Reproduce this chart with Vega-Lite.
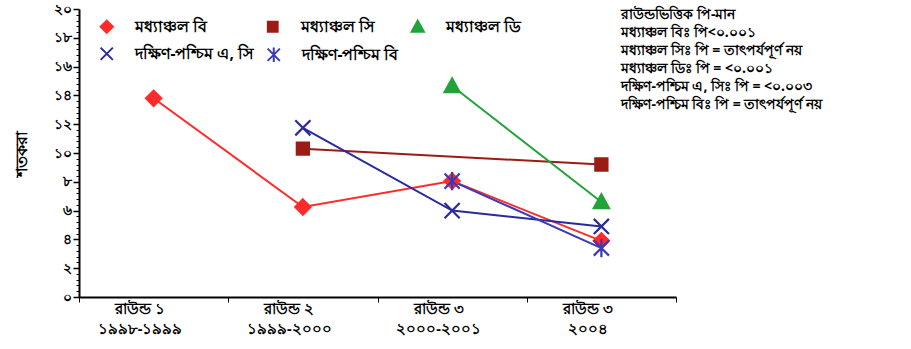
{
  "$schema": "https://vega.github.io/schema/vega-lite/v6.json",
  "width": 597,
  "height": 288,
  "padding": {"left": 13, "top": 2, "right": 5, "bottom": 5},
  "background": "white",
  "config": {
    "font": "Noto Sans",
    "view": {"stroke": null},
    "axis": {"domainColor": "#000000", "domainWidth": 2, "tickColor": "#000000", "labelColor": "#000000", "titleColor": "#000000", "grid": false}
  },
  "datasets": {
    "pts": [
      {"series": "মধ্যাঞ্চল বি", "round": "রাউন্ড ১|১৯৯৮-১৯৯৯", "value": 13.8},
      {"series": "মধ্যাঞ্চল বি", "round": "রাউন্ড ২|১৯৯৯-২০০০", "value": 6.25},
      {"series": "মধ্যাঞ্চল বি", "round": "রাউন্ড ৩|২০০০-২০০১", "value": 8.05},
      {"series": "মধ্যাঞ্চল বি", "round": "রাউন্ড ৩|২০০৪", "value": 3.9},
      {"series": "মধ্যাঞ্চল সি", "round": "রাউন্ড ২|১৯৯৯-২০০০", "value": 10.3},
      {"series": "মধ্যাঞ্চল সি", "round": "রাউন্ড ৩|২০০৪", "value": 9.2},
      {"series": "মধ্যাঞ্চল ডি", "round": "রাউন্ড ৩|২০০০-২০০১", "value": 14.65},
      {"series": "মধ্যাঞ্চল ডি", "round": "রাউন্ড ৩|২০০৪", "value": 6.6},
      {"series": "দক্ষিণ-পশ্চিম এ, সি", "round": "রাউন্ড ২|১৯৯৯-২০০০", "value": 11.75},
      {"series": "দক্ষিণ-পশ্চিম এ, সি", "round": "রাউন্ড ৩|২০০০-২০০১", "value": 6.0},
      {"series": "দক্ষিণ-পশ্চিম এ, সি", "round": "রাউন্ড ৩|২০০৪", "value": 4.9},
      {"series": "দক্ষিণ-পশ্চিম বি", "round": "রাউন্ড ৩|২০০০-২০০১", "value": 8.05},
      {"series": "দক্ষিণ-পশ্চিম বি", "round": "রাউন্ড ৩|২০০৪", "value": 3.4}
    ],
    "notes": [
      {"line": "রাউন্ডভিত্তিক পি-মান", "pos": 19.58},
      {"line": "মধ্যাঞ্চল বিঃ পি<০.০০১", "pos": 18.33},
      {"line": "মধ্যাঞ্চল সিঃ পি = তাৎপর্যপূর্ণ নয়", "pos": 17.08},
      {"line": "মধ্যাঞ্চল ডিঃ পি = <০.০০১", "pos": 15.83},
      {"line": "দক্ষিণ-পশ্চিম এ, সিঃ পি = <০.০০৩", "pos": 14.58},
      {"line": "দক্ষিণ-পশ্চিম বিঃ পি = তাৎপর্যপূর্ণ নয়", "pos": 13.33}
    ]
  },
  "layer": [
    {
      "data": {"name": "pts"},
      "mark": {"type": "line", "strokeWidth": 2},
      "encoding": {
        "x": {
          "field": "round", "type": "nominal", "sort": null,
          "scale": {"type": "band", "paddingInner": 0, "paddingOuter": 0, "domain": ["রাউন্ড ১|১৯৯৮-১৯৯৯", "রাউন্ড ২|১৯৯৯-২০০০", "রাউন্ড ৩|২০০০-২০০১", "রাউন্ড ৩|২০০৪"]},
          "axis": {"title": null, "labelAngle": 0, "labelExpr": "split(datum.label, '|')", "tickBand": "extent", "tickSize": 5, "labelFontSize": 14.5, "labelFontWeight": "bold", "labelPadding": 0, "labelLineHeight": 20, "labelOffset": -14}
        },
        "y": {
          "field": "value", "type": "quantitative", "title": "শতকরা",
          "scale": {"domain": [0, 20], "nice": false},
          "axis": {"title": "শতকরা",
            "values": [0, 0.4, 0.8, 1.2, 1.6, 2, 2.4, 2.8, 3.2, 3.6, 4, 4.4, 4.8, 5.2, 5.6, 6, 6.4, 6.8, 7.2, 7.6, 8, 8.4, 8.8, 9.2, 9.6, 10, 10.4, 10.8, 11.2, 11.6, 12, 12.4, 12.8, 13.2, 13.6, 14, 14.4, 14.8, 15.2, 15.6, 16, 16.4, 16.8, 17.2, 17.6, 18, 18.4, 18.8, 19.2, 19.6, 20],
            "labelExpr": "abs(datum.value/2 - round(datum.value/2)) < 0.001 ? ['০','২','৪','৬','৮','১০','১২','১৪','১৬','১৮','২০'][round(datum.value/2)] : ''",
            "labelOverlap": false, "labelFlush": false,
            "labelFontSize": 14, "labelFontWeight": "bold",
            "tickSize": {"condition": {"test": "abs(datum.value/2 - round(datum.value/2)) < 0.001", "value": 6}, "value": 3},
            "tickWidth": {"condition": {"test": "abs(datum.value/2 - round(datum.value/2)) < 0.001", "value": 1.5}, "value": 1},
            "titleFontSize": 16, "titleFontWeight": "bold", "titlePadding": 24}
        },
        "color": {"field": "series", "type": "nominal", "sort": null,
          "scale": {"domain": ["মধ্যাঞ্চল বি", "মধ্যাঞ্চল সি", "মধ্যাঞ্চল ডি", "দক্ষিণ-পশ্চিম এ, সি", "দক্ষিণ-পশ্চিম বি"], "range": ["#ff2a2a", "#9a1c14", "#22a33a", "#2a2a9e", "#3a3ab4"]},
          "legend": {
            "title": null, "orient": "none", "legendX": 20, "legendY": 10, "columns": 3, "direction": "horizontal", "gridAlign": "none", "columnPadding": 9, "rowPadding": 6,
            "labelFontSize": 15.5, "labelFontWeight": "bold", "labelColor": "#000000", "labelOffset": 20, "symbolSize": 150, "symbolStrokeWidth": 2
          }
        },
        "detail": {"field": "series"}
      }
    },
    {
      "data": {"name": "pts"},
      "mark": {"type": "point", "filled": true, "opacity": 1, "strokeWidth": 2.2, "size": 230},
      "encoding": {
        "x": {"field": "round", "type": "nominal", "sort": null},
        "y": {"field": "value", "type": "quantitative", "title": "শতকরা",
          "axis": {"title": "শতকরা",
            "values": [0, 0.4, 0.8, 1.2, 1.6, 2, 2.4, 2.8, 3.2, 3.6, 4, 4.4, 4.8, 5.2, 5.6, 6, 6.4, 6.8, 7.2, 7.6, 8, 8.4, 8.8, 9.2, 9.6, 10, 10.4, 10.8, 11.2, 11.6, 12, 12.4, 12.8, 13.2, 13.6, 14, 14.4, 14.8, 15.2, 15.6, 16, 16.4, 16.8, 17.2, 17.6, 18, 18.4, 18.8, 19.2, 19.6, 20],
            "labelExpr": "abs(datum.value/2 - round(datum.value/2)) < 0.001 ? ['০','২','৪','৬','৮','১০','১২','১৪','১৬','১৮','২০'][round(datum.value/2)] : ''",
            "labelOverlap": false, "labelFlush": false,
            "labelFontSize": 14, "labelFontWeight": "bold",
            "tickSize": {"condition": {"test": "abs(datum.value/2 - round(datum.value/2)) < 0.001", "value": 6}, "value": 3},
            "tickWidth": {"condition": {"test": "abs(datum.value/2 - round(datum.value/2)) < 0.001", "value": 1.5}, "value": 1},
            "titleFontSize": 16, "titleFontWeight": "bold", "titlePadding": 24}},
        "color": {"field": "series", "type": "nominal", "sort": null},
        "stroke": {"field": "series", "type": "nominal", "sort": null,
          "scale": {"domain": ["মধ্যাঞ্চল বি", "মধ্যাঞ্চল সি", "মধ্যাঞ্চল ডি", "দক্ষিণ-পশ্চিম এ, সি", "দক্ষিণ-পশ্চিম বি"], "range": ["#ff2a2a", "#9a1c14", "#22a33a", "#2a2a9e", "#3a3ab4"]}},
        "shape": {"field": "series", "type": "nominal", "sort": null,
          "scale": {"domain": ["মধ্যাঞ্চল বি", "মধ্যাঞ্চল সি", "মধ্যাঞ্চল ডি", "দক্ষিণ-পশ্চিম এ, সি", "দক্ষিণ-পশ্চিম বি"], "range": ["M0,-1L1,0L0,1L-1,0Z", "M-0.8,-0.8L0.8,-0.8L0.8,0.8L-0.8,0.8Z", "M0,-1L1,0.8L-1,0.8Z", "M-1,-1L1,1M1,-1L-1,1", "M-1,-1L1,1M1,-1L-1,1M0,-1.2L0,1.2"]},
          "legend": {
            "title": null, "orient": "none", "legendX": 20, "legendY": 10, "columns": 3, "direction": "horizontal", "gridAlign": "none", "columnPadding": 9, "rowPadding": 6,
            "labelFontSize": 15.5, "labelFontWeight": "bold", "labelColor": "#000000", "labelOffset": 20, "symbolSize": 150, "symbolStrokeWidth": 2
          }
        }
      }
    },
    {
      "data": {"name": "notes"},
      "mark": {"type": "text", "align": "left", "baseline": "middle", "dx": 20, "fontSize": 14, "fontWeight": "bold", "color": "#000000"},
      "encoding": {
        "x": {"datum": "রাউন্ড ৩|২০০৪"},
        "y": {"field": "pos", "type": "quantitative", "title": "শতকরা",
          "axis": {"title": "শতকরা",
            "values": [0, 0.4, 0.8, 1.2, 1.6, 2, 2.4, 2.8, 3.2, 3.6, 4, 4.4, 4.8, 5.2, 5.6, 6, 6.4, 6.8, 7.2, 7.6, 8, 8.4, 8.8, 9.2, 9.6, 10, 10.4, 10.8, 11.2, 11.6, 12, 12.4, 12.8, 13.2, 13.6, 14, 14.4, 14.8, 15.2, 15.6, 16, 16.4, 16.8, 17.2, 17.6, 18, 18.4, 18.8, 19.2, 19.6, 20],
            "labelExpr": "abs(datum.value/2 - round(datum.value/2)) < 0.001 ? ['০','২','৪','৬','৮','১০','১২','১৪','১৬','১৮','২০'][round(datum.value/2)] : ''",
            "labelOverlap": false, "labelFlush": false,
            "labelFontSize": 14, "labelFontWeight": "bold",
            "tickSize": {"condition": {"test": "abs(datum.value/2 - round(datum.value/2)) < 0.001", "value": 6}, "value": 3},
            "tickWidth": {"condition": {"test": "abs(datum.value/2 - round(datum.value/2)) < 0.001", "value": 1.5}, "value": 1},
            "titleFontSize": 16, "titleFontWeight": "bold", "titlePadding": 24}},
        "text": {"field": "line"}
      }
    }
  ]
}
